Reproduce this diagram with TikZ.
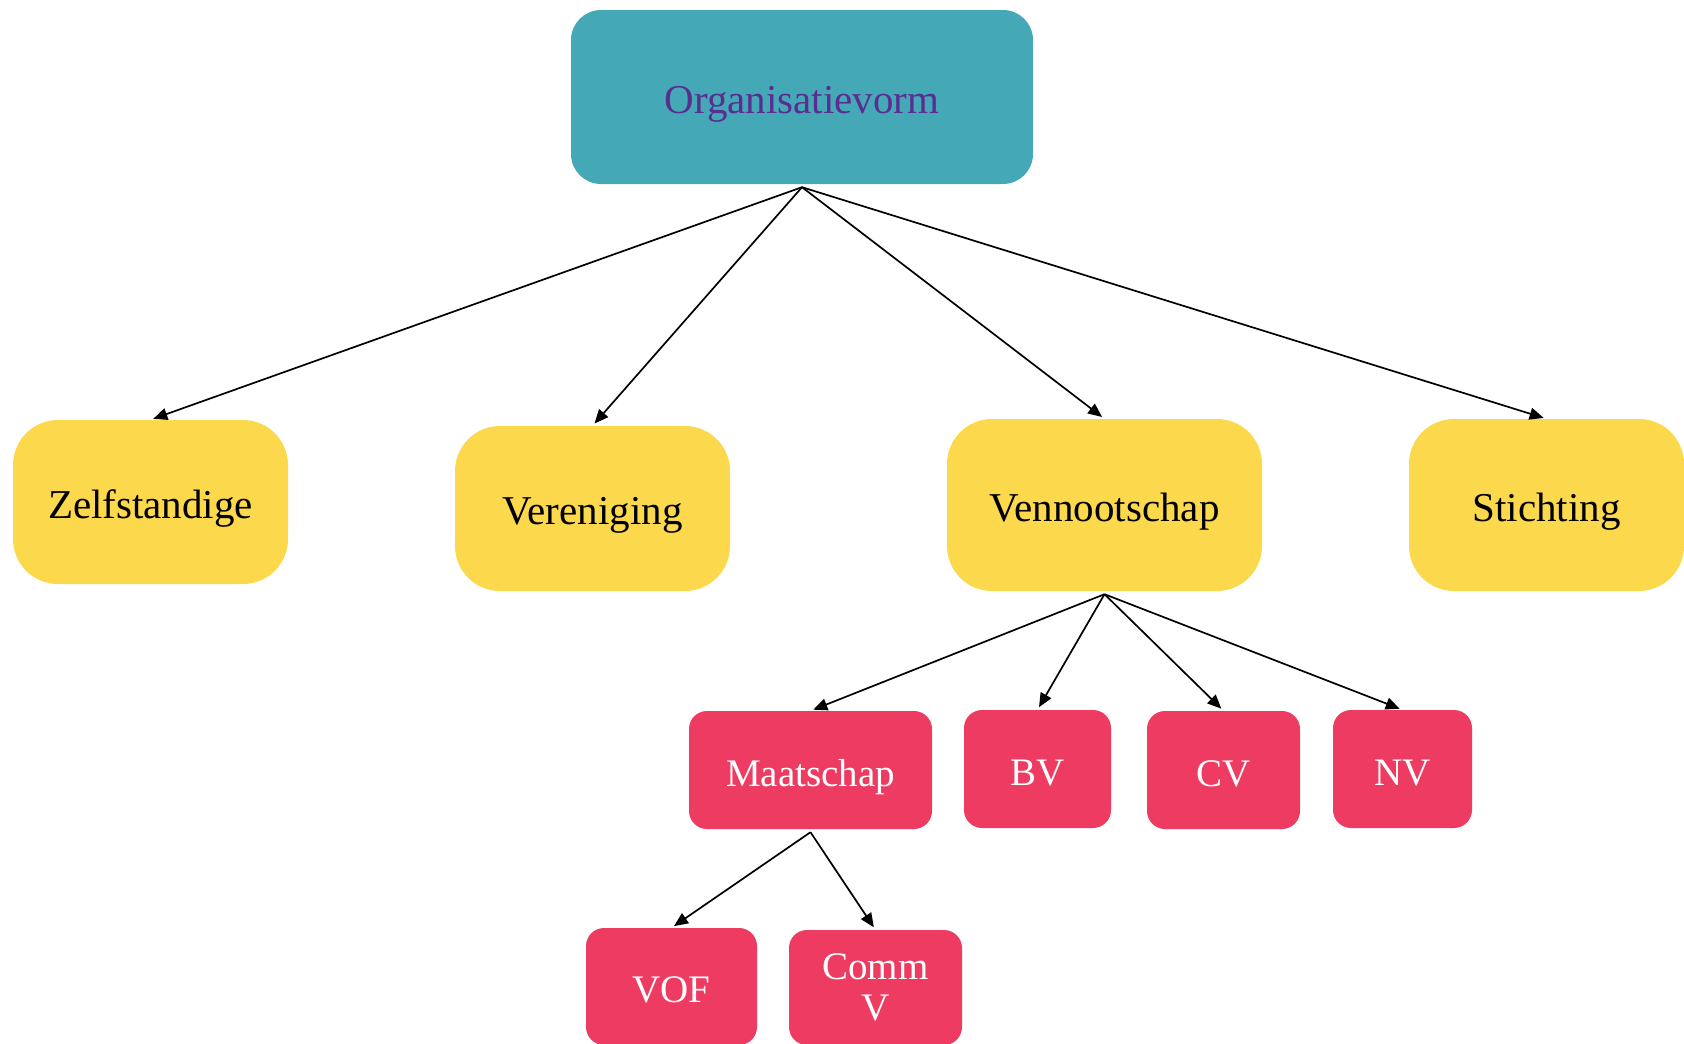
\documentclass[tikz,border=0pt]{standalone}
\usepackage{fontspec}
\setmainfont{Liberation Serif}
\usetikzlibrary{arrows.meta}

\definecolor{orgteal}{HTML}{45A8B7}
\definecolor{orgpurple}{HTML}{5A2D91}
\definecolor{formyellow}{HTML}{FCD84C}
\definecolor{subred}{HTML}{EE3B62}

\begin{document}
\begin{tikzpicture}[x=1pt,y=-1pt,
    box/.style={inner sep=0pt,align=center,font=\fontsize{41}{43}\selectfont,
                text height=32pt,text depth=0pt},
    topbox/.style={box,fill=orgteal,text=orgpurple,rounded corners=30pt},
    formbox/.style={box,fill=formyellow,text=black,rounded corners=45pt},
    subbox/.style={box,fill=subred,text=white,rounded corners=18pt,
                   font=\fontsize{39}{41}\selectfont},
    link/.style={line width=1.7pt,arrows={-Triangle[length=14pt,width=12pt]},
                 shorten >=3pt}]

  %% page size of the reference
  \useasboundingbox (0,0) rectangle (1684,1044);

  %% top of the tree
  \node[topbox,minimum width=462pt,minimum height=174pt] (org) at (802,97)
       {Organisatievorm};

  %% the four forms
  \node[formbox,minimum width=275pt,minimum height=164pt] (zelf) at (150.5,502)
       {Zelfstandige};
  \node[formbox,minimum width=275pt,minimum height=165pt] (ver) at (592.5,508.5)
       {Vereniging};
  \node[formbox,minimum width=315pt,minimum height=172pt] (venn) at (1104.5,505)
       {Vennootschap};
  \node[formbox,minimum width=275pt,minimum height=172pt] (stich) at (1546.5,505)
       {Stichting};

  %% kinds of vennootschap
  \node[subbox,minimum width=243pt,minimum height=118pt] (maat) at (810.5,770)
       {Maatschap};
  \node[subbox,minimum width=147pt,minimum height=118pt] (bv) at (1037.5,769)
       {BV};
  \node[subbox,minimum width=153pt,minimum height=118pt] (cv) at (1223.5,770)
       {CV};
  \node[subbox,minimum width=139pt,minimum height=118pt] (nv) at (1402.5,769)
       {NV};

  %% kinds of maatschap
  \node[subbox,minimum width=171pt,minimum height=117pt] (vof) at (671.5,986.5)
       {VOF};
  \node[subbox,minimum width=173pt,minimum height=115pt,
        text height=,text depth=] (commv) at (875.5,987.5)
       {Comm\\V};

  %% points where the arrows fan out
  \coordinate (org/fork) at ([yshift=-3pt]org.south);
  \coordinate (venn/fork) at ([yshift=-3pt]venn.south);
  \coordinate (maat/fork) at ([yshift=-3pt]maat.south);

  %% arrows
  \foreach \mychild in {zelf,ver,venn,stich}
  {
    \draw[link] (org/fork) -- (\mychild.north);
  }
  \foreach \mychild in {maat,bv,cv,nv}
  {
    \draw[link] (venn/fork) -- (\mychild.north);
  }
  \foreach \mychild in {vof,commv}
  {
    \draw[link] (maat/fork) -- (\mychild.north);
  }

\end{tikzpicture}
\end{document}
